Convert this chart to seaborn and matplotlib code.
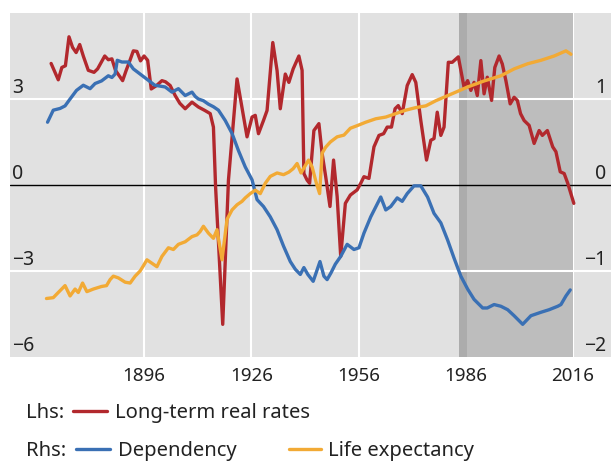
import pandas as pd
import matplotlib
matplotlib.use('Agg')
import matplotlib.pyplot as plt
import seaborn as sns
from matplotlib.lines import Line2D
from matplotlib.transforms import blended_transform_factory, offset_copy

sns.set_style('white')
plt.rcParams['font.family'] = ['Noto Sans', 'DejaVu Sans']

# Long-term real rates (lhs, %)
rate_years = [1870, 1872, 1873, 1874, 1875, 1876, 1877, 1878, 1879, 1880.4, 1882, 1883, 1885, 1886,
              1887, 1888, 1890, 1891, 1892, 1893, 1894, 1895, 1896, 1897, 1898, 1899.5, 1901, 1902,
              1903.3, 1904.7, 1906, 1907.5, 1909.4, 1911.2, 1913, 1914.5, 1915.4, 1916, 1918, 1919.6,
              1922, 1924.8, 1926.2, 1927.1, 1928, 1929.4, 1930.4, 1932, 1933.2, 1934.1, 1935.5, 1936.5,
              1937.7, 1939.3, 1940.2, 1940.7, 1941.6, 1942.3, 1943.5, 1944.9, 1945.8, 1946.8, 1948,
              1949, 1950, 1951, 1952.3, 1953.7, 1955.6, 1956.6, 1957.5, 1958.9, 1960.3, 1961.7, 1963,
              1964, 1965.2, 1966.2, 1967.1, 1968.2, 1969.6, 1971, 1972, 1973.4, 1975, 1976.2, 1977.1,
              1978, 1979, 1979.9, 1981.1, 1982.2, 1983.9, 1985.5, 1986.5, 1987.4, 1988.3, 1989.2,
              1990.2, 1991.1, 1992, 1993.2, 1994.1, 1995.3, 1996.2, 1997.2, 1998.4, 1999.5, 2000.4,
              2001.3, 2002.3, 2003.7, 2005.1, 2006.5, 2007.4, 2008.8, 2010.3, 2011.2, 2012.4, 2013.5,
              2014.5, 2016.2]
rate_vals = [4.24, 3.67, 4.1, 4.16, 5.17, 4.8, 4.62, 4.9, 4.5, 4.0, 3.93, 4.05, 4.5, 4.37,
             4.4, 4.0, 3.64, 4.0, 4.33, 4.68, 4.66, 4.33, 4.5, 4.35, 3.35, 3.47, 3.64, 3.6,
             3.47, 3.12, 2.85, 2.66, 2.89, 2.72, 2.6, 2.49, 2.02, -0.06, -4.86, 0.17,
             3.7, 1.68, 2.37, 2.43, 1.79, 2.25, 2.6, 4.97, 3.99, 2.66, 3.87, 3.58,
             4.05, 4.5, 4.0, 0.4, 0.17, 0.06, 1.9, 2.14, 1.1, 0.29, -0.75,
             0.87, -0.4, -2.49, -0.64, -0.35, -0.17, 0.06, 0.29, 0.23, 1.33, 1.73, 1.79,
             2.02, 2.02, 2.66, 2.77, 2.49, 3.47, 3.85, 3.58, 2.25, 0.87, 1.56, 1.62,
             2.54, 1.73, 2.02, 4.28, 4.28, 4.47, 3.41, 3.64, 3.3, 3.58, 3.12,
             4.34, 3.18, 3.76, 2.95, 4.1, 4.5, 4.22, 3.64, 2.83, 3.06, 2.95,
             2.49, 2.25, 2.08, 1.45, 1.9, 1.73, 1.9, 1.33, 1.16, 0.46, 0.4,
             0.06, -0.64]

# Dependency (rhs)
dep_years = [1869, 1870.6, 1872.5, 1873.9, 1875.3, 1877.1, 1879, 1880.9, 1882.3, 1884.1, 1886, 1887,
             1887.9, 1888.5, 1889.8, 1891.6, 1893, 1894.9, 1896.8, 1899, 1901.9, 1903.8, 1905.6,
             1907.5, 1909.4, 1910.3, 1911.2, 1912.6, 1914, 1915.4, 1916.8, 1918.7, 1920.6, 1922.4,
             1924.3, 1926.2, 1927.6, 1929.4, 1931.3, 1933.2, 1935, 1936.9, 1938.3, 1939.7, 1940.7,
             1941.8, 1943.3, 1945.2, 1946.3, 1947.2, 1948.3, 1949.5, 1951, 1952.8, 1954.7, 1956.1,
             1957.5, 1959.4, 1962.2, 1963.6, 1965, 1966.8, 1968.2, 1969.6, 1971.5, 1973.4, 1975.3,
             1977.1, 1979, 1980.9, 1982.7, 1984.6, 1986.5, 1988.3, 1990.7, 1992, 1993.9, 1995.8,
             1997.7, 1999.5, 2001.9, 2004.2, 2007, 2009.3, 2011.7, 2012.6, 2014, 2015.2]
dep_vals = [0.73, 0.87, 0.89, 0.92, 1.0, 1.10, 1.16, 1.12, 1.18, 1.21, 1.27, 1.25,
            1.29, 1.45, 1.43, 1.43, 1.35, 1.29, 1.23, 1.16, 1.14, 1.08, 1.12,
            1.04, 1.08, 1.03, 1.0, 0.98, 0.94, 0.91, 0.87, 0.75, 0.6, 0.40,
            0.21, 0.06, -0.17, -0.25, -0.37, -0.52, -0.71, -0.89, -0.98, -1.04, -0.96,
            -1.04, -1.12, -0.89, -1.06, -1.10, -1.02, -0.92, -0.83, -0.69, -0.75, -0.73,
            -0.56, -0.37, -0.14, -0.29, -0.25, -0.15, -0.19, -0.10, -0.01, -0.01, -0.14,
            -0.33, -0.44, -0.64, -0.85, -1.06, -1.21, -1.33, -1.43, -1.43, -1.39, -1.41,
            -1.45, -1.52, -1.62, -1.52, -1.48, -1.45, -1.41, -1.39, -1.29, -1.22]

# Life expectancy (rhs)
life_years = [1868.7, 1870.6, 1872, 1873.9, 1875.3, 1876.7, 1877.6, 1878.8, 1880, 1881.8, 1884.1,
              1885.5, 1886.5, 1887.4, 1888.8, 1890.7, 1892.1, 1893.5, 1894.9, 1895.8, 1896.8,
              1898.2, 1899.6, 1901, 1902.8, 1904.2, 1905.6, 1907.5, 1909.4, 1910.8, 1911.7, 1912.6,
              1914, 1915.4, 1916.4, 1917.8, 1919.2, 1920.6, 1922, 1923.4, 1924.3, 1925.7, 1927.1,
              1928.5, 1929.9, 1931.3, 1933.2, 1935, 1936.5, 1937.7, 1938.8, 1939.9, 1942, 1943,
              1944.2, 1945.1, 1945.8, 1946.8, 1948.1, 1950, 1951.9, 1953.7, 1955.6, 1958, 1960.8,
              1963.6, 1966.4, 1969.2, 1972, 1974.8, 1977.6, 1980.4, 1983.2, 1986.5, 1991.1, 1995.8,
              1999.5, 2003.3, 2007, 2010.7, 2014, 2015.4]
life_vals = [-1.32, -1.31, -1.25, -1.17, -1.29, -1.21, -1.25, -1.14, -1.24, -1.21, -1.18,
             -1.17, -1.10, -1.06, -1.08, -1.13, -1.14, -1.06, -1.00, -0.94, -0.87,
             -0.91, -0.95, -0.83, -0.73, -0.75, -0.69, -0.66, -0.60, -0.58, -0.54, -0.48,
             -0.56, -0.62, -0.52, -0.87, -0.40, -0.29, -0.23, -0.19, -0.15, -0.10, -0.06,
             -0.10, 0.02, 0.10, 0.14, 0.12, 0.15, 0.19, 0.25, 0.14, 0.29, 0.21,
             0.02, -0.10, 0.37, 0.44, 0.50, 0.56, 0.58, 0.66, 0.69, 0.73, 0.77,
             0.79, 0.83, 0.87, 0.90, 0.92, 0.98, 1.03, 1.08, 1.14, 1.21, 1.27,
             1.35, 1.41, 1.45, 1.50, 1.56, 1.52]

x_ticks = [1896, 1926, 1956, 1986, 2016]
lhs_ticks = [3, 0, -3, -6]
rhs_ticks = [1, 0, -1, -2]

RED = '#b2282d'
BLUE = '#3a70b4'
ORANGE = '#f2aa35'
BG = '#e1e1e1'
TXT = '#222222'

rates = pd.DataFrame({'year': rate_years, 'value': rate_vals})
dep = pd.DataFrame({'year': dep_years, 'value': dep_vals})
life = pd.DataFrame({'year': life_years, 'value': life_vals})

fig = plt.figure(figsize=(6.11, 4.61), dpi=100)
ax = fig.add_axes([10 / 611, 1 - 357 / 461, 601 / 611, 344 / 461])
ax.set_facecolor(BG)
for s in ax.spines.values():
    s.set_visible(False)

# grid, shading, zero line
for yr in x_ticks:
    ax.axvline(yr, color='white', lw=1.5, zorder=0.3)
ax.axvspan(1984, 1986.3, color='#acacac', lw=0, zorder=0.5)
ax.axvspan(1986.3, 2016, color='#bdbdbd', lw=0, zorder=0.5)
for v in [3, -3]:
    ax.axhline(v, color='white', lw=1.5, zorder=0.7)
ax.axhline(0, color='black', lw=1.0, zorder=0.8)

sns.lineplot(data=rates, x='year', y='value', ax=ax, color=RED, lw=2.4, zorder=3)
ax.set_xlim(1858.5, 2026.6)
ax.set_ylim(-6, 6)
ax.set_xticks(x_ticks)
ax.set_xticklabels([str(t) for t in x_ticks], fontsize=13.5, color=TXT)
ax.tick_params(axis='x', direction='in', length=10, width=1.2, color='black', pad=7)
ax.set_yticks([])
ax.set_xlabel('')
ax.set_ylabel('')

ax2 = ax.twinx()
for s in ax2.spines.values():
    s.set_visible(False)
sns.lineplot(data=dep, x='year', y='value', ax=ax2, color=BLUE, lw=2.4)
sns.lineplot(data=life, x='year', y='value', ax=ax2, color=ORANGE, lw=2.4)
ax2.set_ylim(-2, 2)
ax2.set_yticks([])
ax2.set_ylabel('')

# axis numbers drawn inside the plot area, just above their gridlines
left_tr = offset_copy(blended_transform_factory(ax.transAxes, ax.transData), fig=fig, y=4.0, units='points')
for v in lhs_ticks:
    ax.text(0.003, v, str(v).replace('-', '\u2212'), transform=left_tr, ha='left', va='baseline',
            fontsize=14, color=TXT)
right_tr = offset_copy(blended_transform_factory(ax2.transAxes, ax2.transData), fig=fig, y=4.0, units='points')
for v in rhs_ticks:
    ax2.text(0.992, v, str(v).replace('-', '\u2212'), transform=right_tr, ha='right', va='baseline',
             fontsize=14, color=TXT)

# legend below the chart
def px(x, y):
    return x / 611, 1 - y / 461

def key(x0, x1, y, color):
    (a, b), (c, _) = px(x0, y), px(x1, y)
    fig.add_artist(Line2D([a, c], [b, b], color=color, lw=2.4, transform=fig.transFigure))

fs = 14.5
fig.text(*px(26, 418), 'Lhs:', fontsize=fs, color=TXT, va='baseline')
key(73, 107, 411, RED)
fig.text(*px(115, 418), 'Long-term real rates', fontsize=fs, color=TXT, va='baseline')
fig.text(*px(26, 456), 'Rhs:', fontsize=fs, color=TXT, va='baseline')
key(76, 110, 449, BLUE)
fig.text(*px(118, 456), 'Dependency', fontsize=fs, color=TXT, va='baseline')
key(289, 321, 449, ORANGE)
fig.text(*px(328, 456), 'Life expectancy', fontsize=fs, color=TXT, va='baseline')

fig.savefig('out.png', dpi=100)
